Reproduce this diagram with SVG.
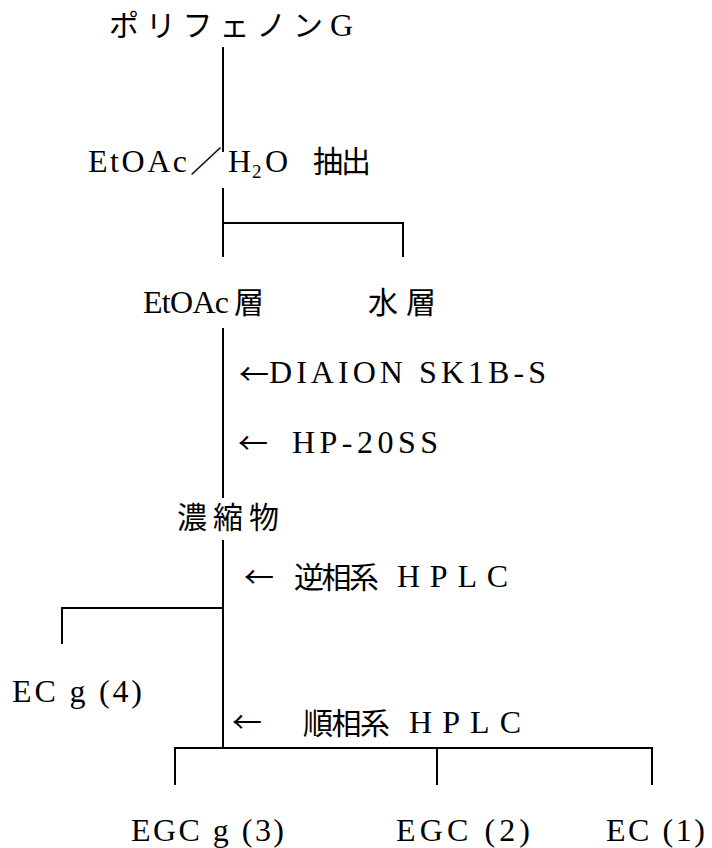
<svg xmlns="http://www.w3.org/2000/svg" width="712" height="848" viewBox="0 0 712 848">
<style>
.t{font-family:"Liberation Serif","Noto Sans CJK JP",serif;font-size:32px;fill:#000}
.s{font-size:19px}
.j{font-family:"Noto Sans CJK JP","Noto Sans CJK SC",sans-serif;font-size:30px;fill:#000}
.a{font-family:"Noto Sans CJK JP","DejaVu Sans",sans-serif;font-size:29px;fill:#000}
.c line{stroke:#000;stroke-width:2;fill:none}
</style>
<rect width="712" height="848" fill="#fff"/>
<g class="c" id="connectors">
<line x1="223" y1="47" x2="223" y2="152"/>
<line x1="223" y1="188" x2="223" y2="257"/>
<line x1="222" y1="223" x2="404" y2="223"/>
<line x1="403" y1="222" x2="403" y2="257"/>
<line x1="223" y1="328" x2="223" y2="498"/>
<line x1="223" y1="540" x2="223" y2="749"/>
<line x1="61" y1="608" x2="224" y2="608"/>
<line x1="62" y1="607" x2="62" y2="644"/>
<line x1="174" y1="748" x2="653" y2="748"/>
<line x1="175" y1="747" x2="175" y2="785"/>
<line x1="437" y1="747" x2="437" y2="785"/>
<line x1="652" y1="747" x2="652" y2="785"/>
</g>
<g id="n-polyphenon">
<text class="j" x="109" y="36" textLength="214" lengthAdjust="spacing">ポリフェノン</text>
<text class="t" x="330" y="36">G</text>
</g>
<g id="n-extract">
<text class="t" x="88" y="172" textLength="99" lengthAdjust="spacing">EtOAc</text>
<text class="j" x="190" y="172" textLength="32" lengthAdjust="spacingAndGlyphs">／</text>
<text class="t" x="228" y="172">H</text>
<text class="t s" x="252" y="178">2</text>
<text class="t" x="265" y="172">O</text>
<text class="j" x="313" y="172" textLength="58" lengthAdjust="spacing">抽出</text>
</g>
<g id="n-etoac-layer">
<text class="t" x="143" y="313" textLength="86" lengthAdjust="spacing">EtOAc</text>
<text class="j" x="234" y="313">層</text>
</g>
<g id="n-water-layer">
<text class="j" x="368" y="313" textLength="68" lengthAdjust="spacing">水層</text>
</g>
<g id="n-diaion">
<text class="a" x="239" y="385" textLength="30" lengthAdjust="spacingAndGlyphs">←</text>
<text class="t" x="269" y="383" textLength="277" lengthAdjust="spacing">DIAION SK1B-S</text>
</g>
<g id="n-hp20ss">
<text class="a" x="238" y="454" textLength="30" lengthAdjust="spacingAndGlyphs">←</text>
<text class="t" x="292" y="453" textLength="146" lengthAdjust="spacing">HP-20SS</text>
</g>
<g id="n-conc">
<text class="j" x="177" y="528" textLength="102" lengthAdjust="spacing">濃縮物</text>
</g>
<g id="n-rp-hplc">
<text class="a" x="244" y="588" textLength="30" lengthAdjust="spacingAndGlyphs">←</text>
<text class="j" x="294" y="588" textLength="85" lengthAdjust="spacing">逆相系</text>
<text class="t" x="397" y="587" textLength="111" lengthAdjust="spacing">HPLC</text>
</g>
<g id="n-ecg">
<text class="t" x="12" y="702" textLength="130" lengthAdjust="spacing">EC g (4)</text>
</g>
<g id="n-np-hplc">
<text class="a" x="232" y="733" textLength="30" lengthAdjust="spacingAndGlyphs">←</text>
<text class="j" x="303" y="734" textLength="87" lengthAdjust="spacing">順相系</text>
<text class="t" x="409" y="733" textLength="112" lengthAdjust="spacing">HPLC</text>
</g>
<g id="n-egcg">
<text class="t" x="131" y="841" textLength="153" lengthAdjust="spacing">EGC g (3)</text>
</g>
<g id="n-egc">
<text class="t" x="396" y="841" textLength="134" lengthAdjust="spacing">EGC (2)</text>
</g>
<g id="n-ec">
<text class="t" x="606" y="841" textLength="99" lengthAdjust="spacing">EC (1)</text>
</g>
</svg>
